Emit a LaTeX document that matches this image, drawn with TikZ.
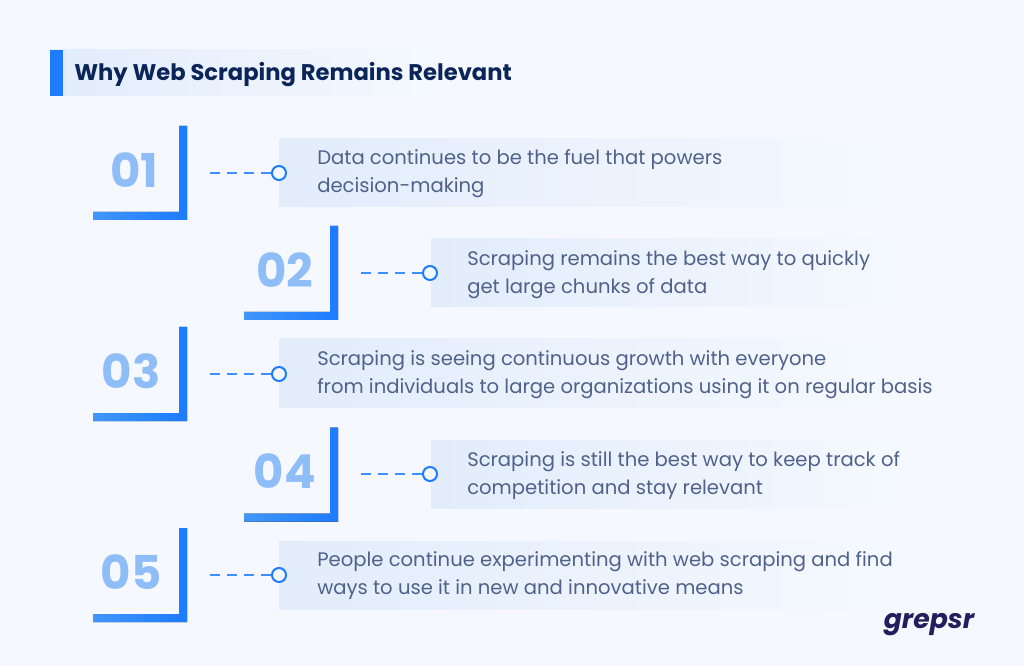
\documentclass[tikz,border=0pt]{standalone}
\usepackage{fontspec}
\setmainfont{Poppins}
\newfontfamily\logofont{Poppins}
\usetikzlibrary{positioning}
\definecolor{pagebg}{HTML}{F5F9FF}
\definecolor{barblue}{HTML}{1C7BFF}
\definecolor{barlight}{HTML}{4196FA}
\definecolor{bandblue}{HTML}{E2ECFB}
\definecolor{numblue}{HTML}{8FBDF7}
\definecolor{titleblue}{HTML}{0B2559}
\definecolor{textblue}{HTML}{50628A}
\definecolor{logoblue}{HTML}{251E5E}
\tikzstyle{band} = [rectangle, anchor=west, minimum height=51pt, inner sep=0pt, left color=bandblue, right color=pagebg]
\tikzstyle{bandtext} = [anchor=west, align=left, inner sep=0pt, text=textblue, font=\fontsize{14.7}{21}\selectfont]
\tikzstyle{number} = [text=numblue, inner sep=0pt, font=\fontsize{35}{35}\selectfont\bfseries]
\tikzstyle{dot} = [circle, draw=barblue, fill=pagebg, line width=1.5pt, minimum size=10.5pt, inner sep=0pt]
\tikzstyle{link} = [barblue!85!white, line width=1.4pt, dash pattern=on 7.5pt off 5.25pt]
\tikzstyle{elbow} = [left color=barlight, right color=barblue]

\begin{document}
\begin{tikzpicture}[x=0.75pt, y=-0.75pt]
\useasboundingbox (0,0) rectangle (1024,666);
\fill[pagebg] (0,0) rectangle (1024,666);

% heading
\node (titleband) [band, minimum width=296pt, minimum height=34.5pt] at (50,73) {};
\fill[barblue] (50,50) rectangle (62.5,96);
\node (title) [anchor=west, inner sep=0pt, text=titleblue, font=\fontsize{17}{21}\selectfont\bfseries] at (74,74.5) {Why Web Scraping Remains Relevant};

% bands
\node (band1) [band, minimum width=465.75pt] at (279,173) {};
\node (band2) [band, minimum width=360pt] at (431,273) {};
\node (band3) [band, minimum width=465.75pt] at (279,373) {};
\node (band4) [band, minimum width=360pt] at (431,474) {};
\node (band5) [band, minimum width=465.75pt] at (279,575) {};

% elbows
\fill[elbow] (93,212) -- (179,212) -- (179,126) -- (187,126) -- (187,220) -- (93,220) -- cycle;
\fill[elbow] (244,312) -- (330,312) -- (330,226) -- (338,226) -- (338,320) -- (244,320) -- cycle;
\fill[elbow] (93,413) -- (179,413) -- (179,327) -- (187,327) -- (187,421) -- (93,421) -- cycle;
\fill[elbow] (244,513.5) -- (330,513.5) -- (330,427.5) -- (338,427.5) -- (338,521.5) -- (244,521.5) -- cycle;
\fill[elbow] (93,614) -- (179,614) -- (179,528) -- (187,528) -- (187,622) -- (93,622) -- cycle;

% numbers
\node (num1) [number] at (134,170) {01};
\node (num2) [number] at (285,270) {02};
\node (num3) [number] at (131,371) {03};
\node (num4) [number] at (285,471) {04};
\node (num5) [number] at (131,572) {05};

% connectors
\coordinate (start1) at (210,173);
\coordinate (start2) at (361,273);
\coordinate (start3) at (210,374);
\coordinate (start4) at (361,474);
\coordinate (start5) at (210,575);
\node (dot1) [dot] at (279,173) {};
\node (dot2) [dot] at (430,273) {};
\node (dot3) [dot] at (279,374) {};
\node (dot4) [dot] at (430,474) {};
\node (dot5) [dot] at (279,575) {};
\draw [link] (start1) -- (dot1);
\draw [link] (start2) -- (dot2);
\draw [link] (start3) -- (dot3);
\draw [link] (start4) -- (dot4);
\draw [link] (start5) -- (dot5);

% texts
\node (text1) [bandtext] at (317,174) {Data continues to be the fuel that powers\\decision-making};
\node (text2) [bandtext] at (467,274.5) {Scraping remains the best way to quickly\\get large chunks of data};
\node (text3) [bandtext] at (317,375) {Scraping is seeing continuous growth with everyone\\from individuals to large organizations using it on regular basis};
\node (text4) [bandtext] at (467,475.5) {Scraping is still the best way to keep track of\\competition and stay relevant};
\node (text5) [bandtext] at (317,576) {People continue experimenting with web scraping and find\\ways to use it in new and innovative means};

% logo
\node (logo) [inner sep=0pt, text=logoblue, font=\logofont\fontsize{20}{20}\selectfont\bfseries\itshape] at (929,625) {grepsr};
\end{tikzpicture}
\end{document}
